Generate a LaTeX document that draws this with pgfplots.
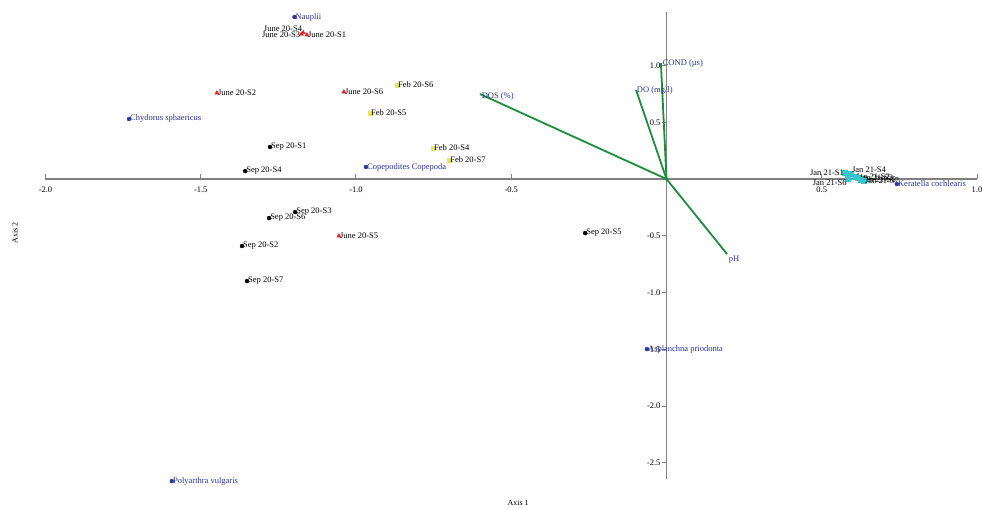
\documentclass[border=0pt]{standalone}
\usepackage{pgfplots}
\pgfplotsset{compat=1.18}
\usepackage{pgfplotstable}
\usepackage{fontspec}
\setmainfont{Liberation Serif}

\definecolor{spblue}{HTML}{2A3AA0}
\definecolor{lblblue}{HTML}{27308F}
\definecolor{junered}{HTML}{E8232B}
\definecolor{febyel}{HTML}{E6E65A}
\definecolor{jancyan}{HTML}{38C4CC}
\definecolor{vecgreen}{HTML}{1E8C3C}
\definecolor{axgray}{HTML}{808080}

\pgfplotsset{
  lbl/.style 2 args={
    point meta=explicit symbolic,
    nodes near coords,
    every node near coord/.style={font=\fontsize{8.5}{10}\selectfont, inner sep=1pt, anchor=#1, text=#2},
  },
}

\begin{document}
\begin{tikzpicture}
\begin{axis}[
  scale only axis, width=931.5pt, height=467pt,
  xmin=-2, xmax=1, ymin=-2.643, ymax=1.471,
  axis lines=middle,
  axis line style={-, axgray, line width=1.5pt},
  xtick={-2,-1.5,-1,-0.5,0.5,1},
  ytick={-2.5,-2,-1.5,-1,-0.5,0.5,1},
  tick style={axgray, line width=1pt},
  tick align=center, major tick length=5pt,
  xtick style={yshift=2.5pt}, ytick style={xshift=-2.5pt},
  ticklabel style={font=\fontsize{8.5}{10}\selectfont, text=black},
  xticklabel style={yshift=-1.5pt},
  /pgf/number format/fixed, /pgf/number format/fixed zerofill,
  /pgf/number format/precision=1, /pgf/number format/assume math mode=true,
  clip=false,
]
% environmental vectors
\addplot[vecgreen, line width=1.8pt, no marks] coordinates {(0,0) (-0.018,1.022)} node[pos=1, anchor=west, text=lblblue, font=\fontsize{8.5}{10}\selectfont, inner sep=1pt] {COND (µs)};
\addplot[vecgreen, line width=1.8pt, no marks] coordinates {(0,0) (-0.098,0.784)} node[pos=1, anchor=west, text=lblblue, font=\fontsize{8.5}{10}\selectfont, inner sep=0pt] {DO (mg/l)};
\addplot[vecgreen, line width=1.8pt, no marks] coordinates {(0,0) (-0.601,0.749)} node[pos=1, anchor=north west, yshift=3pt, text=lblblue, font=\fontsize{8.5}{10}\selectfont, inner sep=1pt] {DOS (\%)};
\addplot[vecgreen, line width=1.8pt, no marks] coordinates {(0,0) (0.195,-0.661)} node[pos=1, anchor=north west, text=lblblue, font=\fontsize{8.5}{10}\selectfont, inner sep=1pt] {pH};

% Sep 20
\addplot[only marks, mark=*, mark size=2pt, black, lbl={west}{black}] coordinates {
  (-1.277,0.282) [Sep 20-S1]
  (-1.357,0.070) [Sep 20-S4]
  (-1.196,-0.291) [Sep 20-S3]
  (-1.280,-0.344) [Sep 20-S6]
  (-1.367,-0.590) [Sep 20-S2]
  (-1.351,-0.899) [Sep 20-S7]
  (-0.262,-0.476) [Sep 20-S5]
};
% June 20
\addplot[only marks, mark=triangle*, mark size=2.4pt, junered, lbl={west}{black}] coordinates {
  (-1.158,1.269) [June 20-S1]
  (-1.448,0.758) [June 20-S2]
  (-1.039,0.767) [June 20-S6]
  (-1.055,-0.502) [June 20-S5]
};
\addplot[only marks, mark=triangle*, mark size=2.4pt, junered, lbl={south east}{black}] coordinates {
  (-1.170,1.290) [June 20-S4]
};
\addplot[only marks, mark=triangle*, mark size=2.4pt, junered, lbl={east}{black}] coordinates {
  (-1.176,1.275) [June 20-S3]
};
% Feb 20
\addplot[only marks, mark=square*, mark size=2pt, febyel, lbl={west}{black}] coordinates {
  (-0.868,0.828) [Feb 20-S6]
  (-0.955,0.581) [Feb 20-S5]
  (-0.752,0.273) [Feb 20-S4]
  (-0.700,0.167) [Feb 20-S7]
};
% Jan 21
\addplot[only marks, mark=square*, mark size=2.5pt, jancyan, lbl={west}{black}] coordinates {
  (0.607,0.018) [Jan 21-S2]
  (0.617,0.009) [Jan 21-S3]
  (0.626,-0.009) [Jan 21-S5]
  (0.636,-0.018) [Jan 21-S7]
};
\addplot[only marks, mark=square*, mark size=2.5pt, jancyan, lbl={east}{black}] coordinates {
  (0.575,0.053) [Jan 21-S1]
};
\addplot[only marks, mark=square*, mark size=2.5pt, jancyan, lbl={south west}{black}] coordinates {
  (0.594,0.044) [Jan 21-S4]
};
\addplot[only marks, mark=square*, mark size=2.5pt, jancyan, lbl={north east}{black}] coordinates {
  (0.584,0.000) [Jan 21-S6]
};
% species
\addplot[only marks, mark=*, mark size=2pt, spblue, lbl={west}{lblblue}] coordinates {
  (-1.198,1.427) [Nauplii]
  (-1.731,0.529) [Chydorus sphaericus]
  (-0.968,0.106) [Copepodites Copepoda]
  (0.742,-0.044) [Keratella cochlearis]
  (-0.063,-1.498) [Asplanchna priodonta]
  (-1.593,-2.661) [Polyarthra vulgaris]
};

\node[font=\fontsize{8}{9}\selectfont] at (axis cs:-0.478,-2.855) {Axis 1};
\node[font=\fontsize{8}{9}\selectfont, rotate=90] at (axis cs:-2.098,-0.476) {Axis 2};

\coordinate (BL) at (axis cs:-2.1465,-2.907);
\coordinate (TR) at (axis cs:1.0161,1.577);
\end{axis}
\pgfresetboundingbox
\path[use as bounding box] (BL) rectangle (TR);
\end{tikzpicture}
\end{document}
